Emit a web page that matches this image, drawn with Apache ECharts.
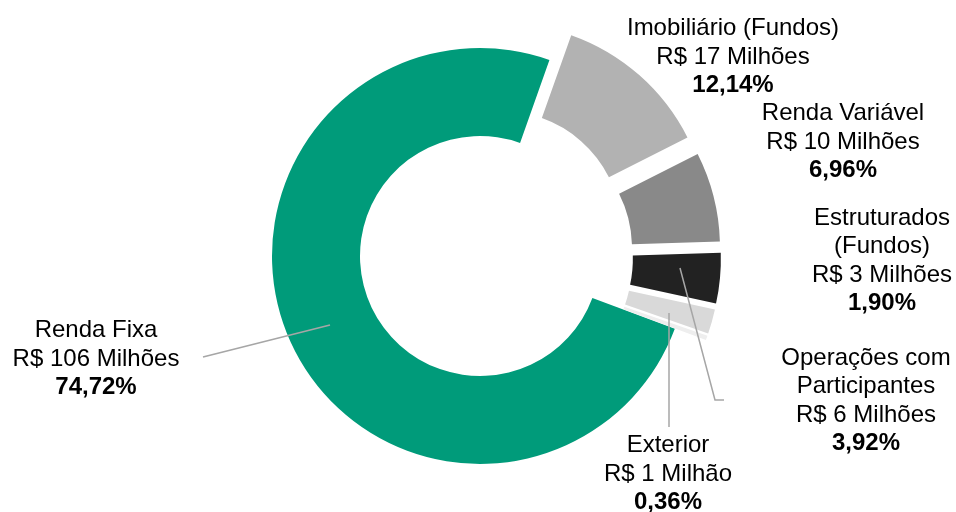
<!DOCTYPE html>
<html>
<head>
<meta charset="utf-8">
<script src="https://cdn.jsdelivr.net/npm/echarts@6/dist/echarts.min.js"></script>
<style>
html,body{margin:0;padding:0;background:#fff;}
#main{width:956px;height:512px;}
</style>
</head>
<body>
<div id="main"></div>
<script>
// dados do gráfico
var names = ['Imobiliário (Fundos)','Renda Variável','Operações com\nParticipantes','Estruturados\n(Fundos)','Exterior','Renda Fixa'];
var amounts = ['R$ 17 Milhões','R$ 10 Milhões','R$ 6 Milhões','R$ 3 Milhões','R$ 1 Milhão','R$ 106 Milhões'];
var shares = [12.14,6.96,3.92,1.90,0.36,74.72];
var shareLabels = ['12,14%','6,96%','3,92%','1,90%','0,36%','74,72%'];

var colors = ['#b2b2b2','#898989','#222222','#d9d9d9','#eeeeee','#009b7a'];
var exploded = [true,true,true,true,true,false];

// posição dos rótulos (centro do bloco) e linhas de chamada
var labelPos = [[733,57],[843,142],[866,401],[882,261],[668,474],[96,359]];
var leaderLines = [null,null,[[680,268],[715,400],[724,400]],null,[[669,313],[669,427]],[[330,325],[203,357]]];

var FONT = 'Liberation Sans, Arial, sans-serif';

var myChart = echarts.init(document.getElementById('main'));

var data = [];
var graphics = [];
for(var i=0;i<names.length;i++){
	data.push({
		name:names[i],
		value:shares[i],
		selected:exploded[i],
		itemStyle:{color:colors[i]},
		select:{itemStyle:{color:colors[i],borderWidth:0}}
	});

	var lines = names[i].split('\n');
	var s = [];
	for(var k=0;k<lines.length;k++){
		s.push('{n|'+lines[k]+'}');
	}
	s.push('{n|'+amounts[i]+'}');
	s.push('{b|'+shareLabels[i]+'}');
	graphics.push({
		type:'text',
		x:labelPos[i][0],
		y:labelPos[i][1],
		z:100,
		silent:true,
		style:{
			text:s.join('\n'),
			align:'center',
			verticalAlign:'middle',
			rich:{
				n:{fontSize:24,lineHeight:28.4,fill:'#000',fontFamily:FONT,align:'center'},
				b:{fontSize:24,lineHeight:28.4,fontWeight:'bold',fill:'#000',fontFamily:FONT,align:'center'}
			}
		}
	});
	if(leaderLines[i]!=null){
		graphics.push({
			type:'polyline',
			z:99,
			silent:true,
			shape:{points:leaderLines[i]},
			style:{stroke:'#a6a6a6',lineWidth:1.5,fill:null}
		});
	}
}

option = {
	animation:false,
	graphic:graphics,
	series:[
		{
			type:'pie',
			center:[480,256],
			radius:[120,208],
			startAngle:70.5,
			clockwise:true,
			selectedMode:'multiple',
			selectedOffset:33,
			silent:true,
			itemStyle:{borderWidth:0},
			label:{show:false},
			labelLine:{show:false},
			data:data
		}
	]
};

myChart.setOption(option);
</script>
</body>
</html>
